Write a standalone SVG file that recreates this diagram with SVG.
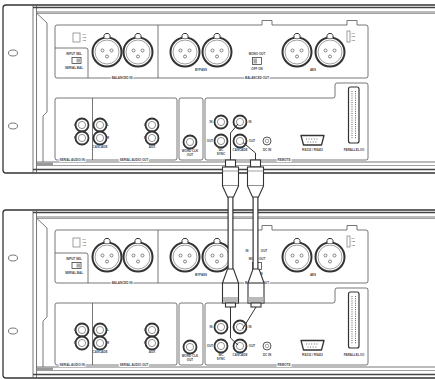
<svg xmlns="http://www.w3.org/2000/svg" xmlns:xlink="http://www.w3.org/1999/xlink" width="435" height="379" viewBox="0 0 435 379">
<style>
.fr{fill:none;stroke:#333;stroke-width:1.3}
.ln{fill:none;stroke:#555;stroke-width:0.8}
.lt{fill:none;stroke:#777;stroke-width:0.7}
.tk{fill:none;stroke:#444;stroke-width:1.4}
.t{font-family:"Liberation Sans",Arial,sans-serif;font-size:3px;font-weight:bold;fill:#444;text-anchor:middle}
.tb{font-family:"Liberation Sans",Arial,sans-serif;font-size:3px;font-weight:bold;fill:#444;text-anchor:middle;paint-order:stroke;stroke:#fff;stroke-width:2}
.pl{fill:#fff;stroke:#333;stroke-width:1.1}
.w{fill:none;stroke:#333;stroke-width:1}
</style>
<defs>
<g id="xlr">
<circle r="14.5" fill="#fff" stroke="#333" stroke-width="2"/>
<circle r="12" fill="none" stroke="#777" stroke-width="0.7"/>
<path d="M-3,-14 L-3,-16.5 L-1.5,-18.5 L1.5,-18.5 L3,-16.5 L3,-14" fill="#fff" stroke="#333" stroke-width="1"/>
<circle cx="-4.5" cy="-1.5" r="1.5" fill="none" stroke="#555" stroke-width="0.7"/>
<circle cx="4.5" cy="-1.5" r="1.5" fill="none" stroke="#555" stroke-width="0.7"/>
<circle cx="0" cy="4.5" r="1.5" fill="none" stroke="#555" stroke-width="0.7"/>
</g>
<g id="rca">
<circle r="6.5" fill="#fff" stroke="#333" stroke-width="1.8"/>
<circle r="3.6" fill="none" stroke="#777" stroke-width="0.8"/>
</g>
<g id="unit">
<rect x="3" y="5" width="460" height="168" rx="3" fill="#fff" stroke="#333" stroke-width="1.3"/>
<line x1="33" y1="5" x2="33" y2="173" class="ln"/>
<line x1="36.5" y1="5" x2="36.5" y2="173" class="ln"/>
<ellipse cx="13" cy="53" rx="4.5" ry="3" class="ln"/>
<ellipse cx="13" cy="126" rx="4.5" ry="3" class="ln"/>
<line x1="33" y1="7.5" x2="440" y2="7.5" class="tk"/>
<line x1="36.5" y1="12" x2="440" y2="12" class="ln"/>
<line x1="36.5" y1="13.5" x2="440" y2="13.5" class="lt"/>
<line x1="36.5" y1="162" x2="440" y2="162" class="ln"/>
<line x1="36.5" y1="165.5" x2="440" y2="165.5" class="lt"/>
<line x1="33" y1="169.5" x2="440" y2="169.5" class="tk"/>
<rect x="37" y="162.5" width="16" height="3" fill="#999"/>
<path d="M37,13.5 L47,23 L47,112 L43,116 L43,162" class="ln"/>
<path d="M57,25 H262 V20.5 H272 V25 H347 V20.5 H357 V25 H366 Q368,25 368,27 V76 Q368,78 366,78 H57 Q55,78 55,76 V27 Q55,25 57,25 Z" class="ln"/>
<line x1="158" y1="25" x2="158" y2="78" class="ln"/>
<path d="M55,48 H86 Q88,48 88,50 V78" class="ln"/>
<rect x="55" y="98" width="122" height="62" rx="2" class="ln"/>
<line x1="92.5" y1="98" x2="92.5" y2="160" class="ln"/>
<rect x="179" y="98" width="24" height="62" rx="2" class="ln"/>
<path d="M207,98 H333 Q335,98 335,96 V85 Q335,83 337,83 H366 Q368,83 368,85 V158 Q368,160 366,160 H207 Q205,160 205,158 V100 Q205,98 207,98 Z" class="ln"/>
<use xlink:href="#xlr" x="107" y="52"/>
<use xlink:href="#xlr" x="138" y="52"/>
<use xlink:href="#xlr" x="185" y="52"/>
<use xlink:href="#xlr" x="217" y="52"/>
<use xlink:href="#xlr" x="297" y="52"/>
<use xlink:href="#xlr" x="330" y="52"/>
<use xlink:href="#rca" x="82" y="125"/>
<use xlink:href="#rca" x="82" y="138"/>
<use xlink:href="#rca" x="100" y="125"/>
<use xlink:href="#rca" x="100" y="138"/>
<use xlink:href="#rca" x="152" y="125"/>
<use xlink:href="#rca" x="152" y="138"/>
<use xlink:href="#rca" x="190" y="142"/>
<use xlink:href="#rca" x="221" y="122"/>
<use xlink:href="#rca" x="240" y="122"/>
<use xlink:href="#rca" x="221" y="141"/>
<use xlink:href="#rca" x="240" y="141"/>
<circle cx="267" cy="141" r="4" fill="#fff" stroke="#444" stroke-width="0.9"/>
<circle cx="267" cy="141" r="1.8" class="lt"/>
<path d="M301,135.5 H324 L321.5,145 H303.5 Z" fill="#fff" stroke="#333" stroke-width="1.3" stroke-linejoin="round"/>
<path d="M306,139 H319 M307.5,142 H317.5" fill="none" stroke="#666" stroke-width="1" stroke-dasharray="1,1.6"/>
<rect x="348.5" y="87" width="10.5" height="56" rx="2" fill="#fff" stroke="#333" stroke-width="1.2"/>
<path d="M352,91 V139 M355.5,91 V139" fill="none" stroke="#666" stroke-width="1" stroke-dasharray="1,1.2"/>
<rect x="73" y="33" width="7" height="9" class="lt"/>
<text class="t" x="82" y="35" style="text-anchor:start;font-size:2.2px">+24</text>
<text class="t" x="82" y="38" style="text-anchor:start;font-size:2.2px">+18</text>
<text class="t" x="82" y="41" style="text-anchor:start;font-size:2.2px">+15</text>
<rect x="347" y="31" width="3" height="11" class="lt"/>
<text class="t" x="351" y="33.5" style="text-anchor:start;font-size:2.2px">+24</text>
<text class="t" x="351" y="37" style="text-anchor:start;font-size:2.2px">+18</text>
<text class="t" x="351" y="40.5" style="text-anchor:start;font-size:2.2px">+15</text>
<text class="t" x="74" y="55">INPUT SEL</text>
<rect x="72" y="57.5" width="9" height="6" fill="#fff" stroke="#444" stroke-width="0.8"/>
<rect x="76.5" y="58.5" width="3.5" height="4" fill="#aaa"/>
<text class="t" x="74" y="69">SERIAL  BAL</text>
<text class="t" x="257" y="55">MONO OUT</text>
<rect x="252.5" y="57.5" width="9" height="7" fill="#fff" stroke="#444" stroke-width="0.8"/>
<rect x="253.5" y="58.5" width="3.5" height="5" fill="#aaa"/>
<text class="t" x="257" y="70">OFF  ON</text>
<text class="tb" x="122" y="79">BALANCED IN</text>
<text class="t" x="201" y="71">BYPASS</text>
<text class="tb" x="257" y="79">BALANCED OUT</text>
<text class="t" x="313" y="71">AES</text>
<text class="t" x="75" y="126">L</text>
<text class="t" x="75" y="139">R</text>
<text class="t" x="108" y="126">L</text>
<text class="t" x="108" y="139">R</text>
<text class="t" x="145" y="126">L</text>
<text class="t" x="145" y="139">R</text>
<text class="t" x="100" y="148">CASCADE</text>
<text class="t" x="152" y="148">AUX</text>
<text class="t" x="190" y="152">WORD CLK</text>
<text class="t" x="190" y="155.5">OUT</text>
<text class="tb" x="72" y="161">SERIAL AUDIO IN</text>
<text class="tb" x="134" y="161">SERIAL AUDIO OUT</text>
<text class="t" x="211" y="123">IN</text>
<text class="t" x="210" y="142">OUT</text>
<text class="t" x="250" y="123">IN</text>
<text class="t" x="252" y="142">OUT</text>
<text class="t" x="221" y="151">WC</text>
<text class="t" x="221" y="154.5">SYNC</text>
<text class="t" x="240" y="151">CASCADE</text>
<text class="t" x="267" y="151">DC IN</text>
<text class="t" x="312.5" y="151">RS232 / RS422</text>
<text class="t" x="354" y="151">PARALLEL I/O</text>
<text class="tb" x="284" y="161">REMOTE</text>
</g>
</defs>
<g id="unit-top"><use xlink:href="#unit"/></g>
<g id="unit-bottom"><use xlink:href="#unit" transform="translate(0,205)"/></g>
<g id="connectors">
<polyline points="230.5,161 230.5,133 238,124" class="w"/>
<polyline points="255.5,161 255.5,153 243,142.5" class="w"/>
<polyline points="230.5,307 230.5,338 238,345" class="w"/>
<polyline points="256,307 242.5,329" class="w"/>
<line x1="230.5" y1="196" x2="230.5" y2="270" stroke="#333" stroke-width="6"/>
<line x1="230.5" y1="196" x2="230.5" y2="270" stroke="#fff" stroke-width="3.6"/>
<line x1="255.5" y1="196" x2="255.5" y2="270" stroke="#333" stroke-width="6"/>
<line x1="255.5" y1="196" x2="255.5" y2="270" stroke="#fff" stroke-width="3.6"/>
<g id="plug-top-1">
<rect x="225.5" y="160" width="10" height="7" class="pl"/>
<rect x="222.5" y="167" width="16" height="19" class="pl"/>
<line x1="222.5" y1="171" x2="238.5" y2="171" class="lt"/>
<path d="M222.5,186 L227.5,197 L233.5,197 L238.5,186" class="pl"/>
</g>
<g id="plug-top-2">
<rect x="250.5" y="160" width="10" height="7" class="pl"/>
<rect x="247.5" y="167" width="16" height="19" class="pl"/>
<line x1="247.5" y1="171" x2="263.5" y2="171" class="lt"/>
<path d="M247.5,186 L252.5,197 L258.5,197 L263.5,186" class="pl"/>
</g>
<g id="plug-bottom-1">
<path d="M222.5,283 L227.5,269 L233.5,269 L238.5,283" class="pl"/>
<rect x="222.5" y="283" width="16" height="20" class="pl"/>
<rect x="223" y="297" width="15" height="5.5" fill="#bbb"/>
<rect x="225.5" y="303" width="10" height="4" class="pl"/>
</g>
<g id="plug-bottom-2">
<path d="M248,283 L253,269 L259,269 L264,283" class="pl"/>
<rect x="248" y="283" width="16" height="20" class="pl"/>
<rect x="248.5" y="297" width="15" height="5.5" fill="#bbb"/>
<rect x="251" y="303" width="10" height="4" class="pl"/>
</g>
<text class="t" x="247" y="252">IN</text>
<text class="t" x="264" y="252">OUT</text>
</g>
</svg>
